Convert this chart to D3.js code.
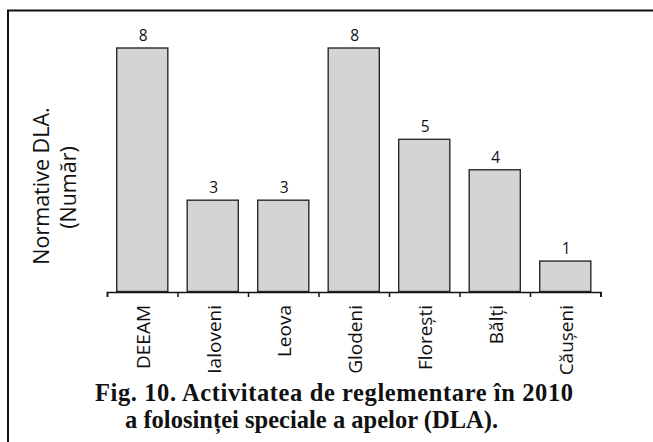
<!DOCTYPE html>
<html><head><meta charset="utf-8">
<script src="https://cdn.jsdelivr.net/npm/d3@7/dist/d3.min.js"></script>
<style>body{margin:0;background:#fff}svg{display:block}</style>
</head><body>
<script>
const categories = ["DEEAM", "Ialoveni", "Leova", "Glodeni", "Florești", "Bălți", "Căușeni"];
const values = [8, 3, 3, 8, 5, 4, 1];
const yLabelLines = ["Normative DLA.", "(Număr)"];
const captionLines = ["Fig. 10. Activitatea de reglementare în 2010", "a folosinței speciale a apelor (DLA)."];

const W = 653, H = 442;
const svg = d3.select("body").append("svg").attr("width", W).attr("height", H);

// frame (clipped at right and bottom like the reference)
svg.append("rect").attr("x", 8).attr("y", 10.5).attr("width", 700).attr("height", 500)
  .attr("fill", "none").attr("stroke", "#111").attr("stroke-width", 2);

const x = d3.scaleBand().domain(categories).range([107, 600.5]).paddingInner(0.275).paddingOuter(0.1375);
const y = d3.scaleLinear().domain([0, 8]).range([291.5, 48]);

const font = "'Open Sans', sans-serif";

svg.selectAll("rect.bar").data(categories).join("rect").attr("class", "bar")
  .attr("x", d => x(d)).attr("width", x.bandwidth())
  .attr("y", (d, i) => y(values[i])).attr("height", (d, i) => y(0) - y(values[i]))
  .attr("fill", "#d4d4d4").attr("stroke", "#2a2a2a").attr("stroke-width", 1.4);

svg.selectAll("text.val").data(categories).join("text").attr("class", "val")
  .attr("x", d => x(d) + x.bandwidth() / 2 + 1).attr("y", (d, i) => y(values[i]) - 7)
  .attr("text-anchor", "middle").attr("font-family", font).attr("font-size", 15.5)
  .attr("fill", "#111").text((d, i) => values[i]);

// x axis with ticks at band boundaries
const axisScale = d3.scaleLinear().domain([0, categories.length]).range([107, 107 + categories.length * x.step()]);
const gx = svg.append("g").attr("transform", "translate(0,292)")
  .call(d3.axisBottom(axisScale).tickValues(d3.range(categories.length + 1)).tickSize(5).tickFormat(""));
gx.select(".domain").attr("stroke", "#111").attr("stroke-width", 1.5);
gx.selectAll(".tick line").attr("stroke", "#111").attr("stroke-width", 1.5);

svg.selectAll("text.cat").data(categories).join("text").attr("class", "cat")
  .attr("transform", d => `translate(${x(d) + x.bandwidth() / 2 + 8},305) rotate(-90)`)
  .attr("text-anchor", "end").attr("font-family", font).attr("font-size", 19)
  .attr("fill", "#111").text(d => d);

// y label
svg.selectAll("text.ylab").data(yLabelLines).join("text").attr("class", "ylab")
  .attr("transform", (d, i) => `translate(${49 + i * 27},${186 + i * 1.5}) rotate(-90)`)
  .attr("text-anchor", "middle").attr("font-family", font).attr("font-size", 21.5)
  .attr("fill", "#111").text(d => d);

// caption
const capX = [334, 311.5], capW = [478, 373];
svg.selectAll("text.cap").data(captionLines).join("text").attr("class", "cap")
  .attr("x", (d, i) => capX[i]).attr("y", (d, i) => 401 + i * 27)
  .attr("text-anchor", "middle").attr("font-family", "'Liberation Serif', 'DejaVu Serif', serif")
  .attr("font-weight", "bold").attr("font-size", 24.5)
  .attr("textLength", (d, i) => capW[i]).attr("lengthAdjust", "spacing")
  .attr("fill", "#111").text(d => d);
</script>
</body></html>
